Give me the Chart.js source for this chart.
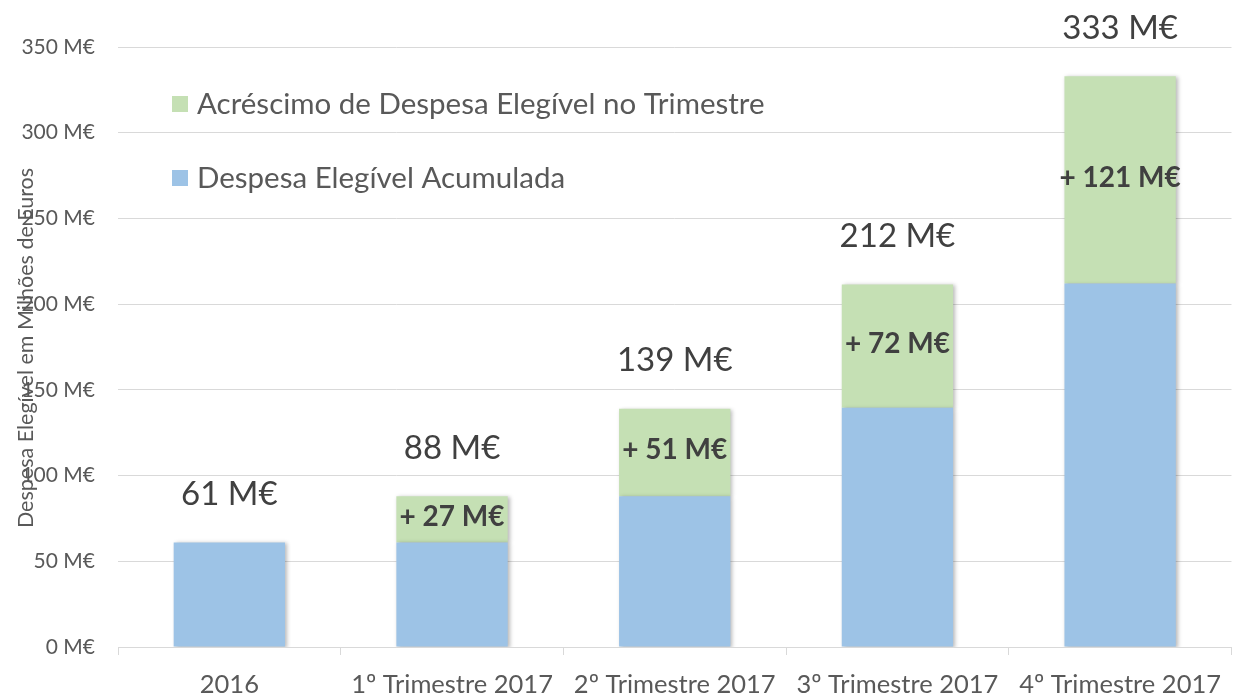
<!DOCTYPE html>
<html>
<head>
<meta charset="utf-8">
<script src="https://cdn.jsdelivr.net/npm/chart.js@4/dist/chart.umd.min.js"></script>
<style>
	html, body { margin: 0; padding: 0; background: #fff; }
	#wrap { position: relative; width: 1235px; height: 698px; }
</style>
</head>
<body>
<div id="wrap"><canvas id="myChart" width="1235" height="698"></canvas></div>
<script>
// chart data
var categories = ['2016', '1º Trimestre 2017', '2º Trimestre 2017', '3º Trimestre 2017', '4º Trimestre 2017'];
var acumulada = [61, 61, 88, 139.5, 212];
var acrescimo = [0, 27, 51, 72, 121];
var totalLabels = ['61 M€', '88 M€', '139 M€', '212 M€', '333 M€'];
var acrescimoLabels = ['', '+ 27 M€', '+ 51 M€', '+ 72 M€', '+ 121 M€'];
var seriesNames = ['Despesa Elegível Acumulada', 'Acréscimo de Despesa Elegível no Trimestre'];
var yTitle = 'Despesa Elegível em Milhões de Euros';

var blue = '#9DC3E6';
var green = '#C5E0B4';
var textColor = '#595959';
var labelColor = '#404040';
var gridColor = '#d9d9d9';
var fontName = 'Lato, "Open Sans", sans-serif';

// labels, legend and axis title
var barLabels = {
	id: 'barLabels',
	beforeDatasetsDraw: function (chart) {
		var ctx = chart.ctx;
		ctx.save();
		ctx.shadowColor = 'rgba(0,0,0,0.28)';
		ctx.shadowBlur = 4;
		ctx.shadowOffsetX = 2;
		ctx.shadowOffsetY = 1;
	},
	afterDatasetsDraw: function (chart) {
		var ctx = chart.ctx;
		ctx.restore();
		ctx.save();
		var y = chart.scales.y;
		var metaGreen = chart.getDatasetMeta(1);

		ctx.textAlign = 'center';
		ctx.textBaseline = 'middle';

		// totals above bars
		ctx.fillStyle = labelColor;
		ctx.font = '33px ' + fontName;
		metaGreen.data.forEach(function (bar, i) {
			var total = acumulada[i] + acrescimo[i];
			ctx.fillText(totalLabels[i], bar.x, y.getPixelForValue(total) - 48);
		});

		// increments inside green
		ctx.font = 'bold 28px ' + fontName;
		metaGreen.data.forEach(function (bar, i) {
			if (!acrescimoLabels[i]) return;
			var mid = (bar.y + bar.base) / 2;
			ctx.fillText(acrescimoLabels[i], bar.x, mid - 2);
		});

		// legend
		var items = [[green, seriesNames[1], 104], [blue, seriesNames[0], 178]];
		ctx.textAlign = 'left';
		ctx.font = '29.5px ' + fontName;
		items.forEach(function (it) {
			ctx.fillStyle = it[0];
			ctx.fillRect(172, it[2] - 8, 16, 16);
			ctx.fillStyle = textColor;
			ctx.fillText(it[1], 197, it[2]);
		});

		// y axis title
		ctx.translate(26, 348);
		ctx.rotate(-Math.PI / 2);
		ctx.textAlign = 'center';
		ctx.font = '21.5px ' + fontName;
		ctx.fillStyle = textColor;
		ctx.fillText(yTitle, 0, 0);
		ctx.restore();
	}
};

var chartConfig = {
	type: 'bar',
	data: {
		labels: categories,
		datasets: [
			{
				label: seriesNames[0],
				data: acumulada,
				backgroundColor: blue,
				categoryPercentage: 1,
				barPercentage: 0.5
			},
			{
				label: seriesNames[1],
				data: acrescimo,
				backgroundColor: green,
				categoryPercentage: 1,
				barPercentage: 0.5
			}
		]
	},
	options: {
		responsive: false,
		animation: false,
		layout: { padding: { top: 47, right: 0, bottom: 0, left: 0 } },
		plugins: {
			legend: { display: false },
			tooltip: { enabled: false }
		},
		scales: {
			x: {
				stacked: true,
				grid: {
					offset: true,
					drawOnChartArea: false,
					tickLength: 8,
					color: gridColor
				},
				border: { color: gridColor },
				ticks: {
					padding: 14,
					color: textColor,
					font: { family: fontName, size: 25.5 },
					maxRotation: 0,
					autoSkip: false
				},
				afterFit: function (scale) { scale.height = 51; }
			},
			y: {
				stacked: true,
				min: 0,
				max: 350,
				grid: { color: gridColor, drawTicks: false },
				border: { display: false },
				ticks: {
					stepSize: 50,
					padding: 23,
					color: textColor,
					font: { family: fontName, size: 21 },
					callback: function (v) { return v + ' M€'; }
				},
				afterFit: function (scale) { scale.width = 118; }
			}
		}
	},
	plugins: [barLabels]
};

var chart = new Chart(document.getElementById('myChart').getContext('2d'), chartConfig);
</script>
</body>
</html>
